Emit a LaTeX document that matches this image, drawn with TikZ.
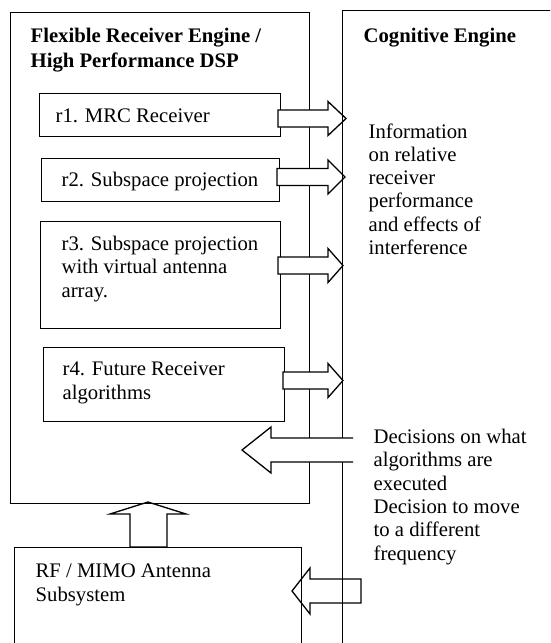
\documentclass[tikz,border=0pt]{standalone}
\usepackage{fontspec}
\setmainfont{Liberation Serif}
\begin{document}
\begin{tikzpicture}[x=1pt,y=-1pt,
  line width=1.3pt,
  box/.style={draw,line width=1.3pt,anchor=north west,inner sep=0pt},
  % multi-line labels are placed by the baseline of their last line
  lbl/.style={anchor=base west,inner sep=0pt,align=left,
    font=\fontsize{20.7}{23.3}\selectfont},
  hdr/.style={lbl,font=\fontsize{20.7}{25}\selectfont\bfseries},
  blk/.style={draw,fill=white,line width=1.3pt,line join=miter}]
\useasboundingbox (0,0) rectangle (550,643);
\begin{scope}
\clip (0,0) rectangle (550,643);

% outer blocks
\node[box,minimum width=299pt,minimum height=491pt] (fre) at (10,12) {};
\node[box,minimum width=287pt,minimum height=120pt] (rf) at (14,547) {};

% receiver algorithm boxes
\node[box,minimum width=241pt,minimum height=43pt] (r1) at (39,93) {};
\node[box,minimum width=238pt,minimum height=43pt] (r2) at (41,158) {};
\node[box,minimum width=240pt,minimum height=107pt] (r3) at (40,221) {};
\node[box,minimum width=241pt,minimum height=74pt] (r4) at (43,347) {};

% labels inside the left blocks
\node[hdr] (tfre) at (30,67) {Flexible Receiver Engine /\\High Performance DSP};
\node[lbl] (tr1) at (55,122) {r1. MRC Receiver};
\node[lbl] (tr2) at (61,186) {r2. Subspace projection};
\node[lbl] (tr3) at (61,297) {r3. Subspace projection\\with virtual antenna\\array.};
\node[lbl] (tr4) at (62,399) {r4. Future Receiver\\algorithms};
\node[lbl] (trf) at (35,601) {RF / MIMO Antenna\\Subsystem};

% block arrows from each receiver to the cognitive engine
\newcommand\infoarrow[3]{% start x, centre y, tip x
  \draw[blk] (#1,{#2-8.5}) -- (328,{#2-8.5}) -- (328,{#2-17}) -- (#3,#2)
    -- (328,{#2+17}) -- (328,{#2+8.5}) -- (#1,{#2+8.5}) -- cycle;}
\infoarrow{278}{118.5}{346}
\infoarrow{277}{177}{345}
\infoarrow{278}{265.5}{343}
\infoarrow{283}{380.5}{343}

% cognitive engine block
\node[box,minimum width=240pt,minimum height=700pt] (ce) at (342,10) {};
\node[hdr] (tce) at (363,42) {Cognitive Engine};
\node[lbl] (tinfo) at (368,254.5) {Information\\on relative\\receiver\\performance\\and effects of\\interference};
\node[lbl] (tdec) at (373,560) {Decisions on what\\algorithms are\\executed\\Decision to move\\to a different\\frequency};

% decision arrow back into the receiver engine (open tail)
\fill[white] (242,450) -- (271,427) -- (271,438) -- (353,438) -- (353,462)
  -- (271,462) -- (271,473) -- cycle;
\draw[line join=miter] (353,438) -- (271,438) -- (271,427) -- (242,450)
  -- (271,473) -- (271,462) -- (353,462);

% frequency decision arrow into the RF subsystem
\draw[line join=miter] (292,591) -- (310,568) -- (310,579) -- (361,579)
  -- (361,603) -- (310,603) -- (310,614) -- cycle;

% RF subsystem feeding the receiver engine
\draw[line join=miter] (148,502) -- (186,514) -- (167,514) -- (167,547)
  -- (130,547) -- (130,514) -- (110,514) -- cycle;
\end{scope}
\end{tikzpicture}
\end{document}
